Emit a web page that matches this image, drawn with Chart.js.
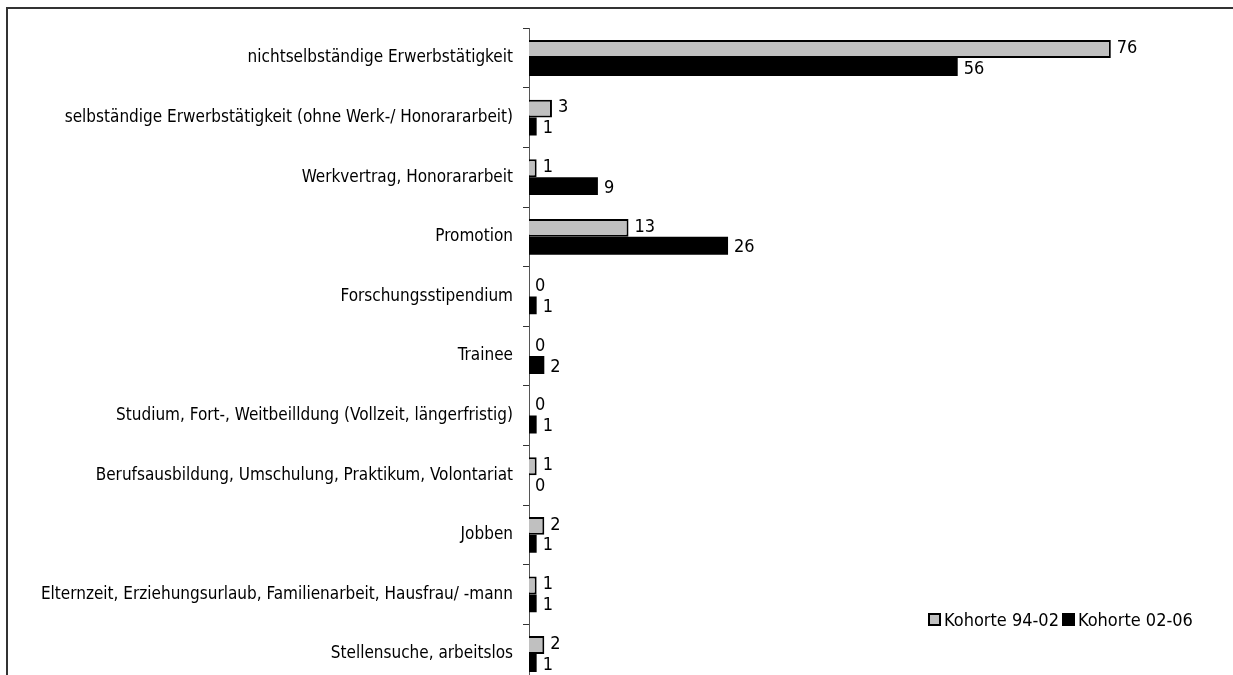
<!DOCTYPE html>
<html>
<head>
<meta charset="utf-8">
<script src="https://cdn.jsdelivr.net/npm/chart.js@4"></script>
<style>
  html, body { margin: 0; padding: 0; background: #fff; overflow: hidden; }
  #frame {
    position: absolute; left: 6px; top: 7px; width: 1240px; height: 720px;
    border-top: 2px solid #333; border-left: 2px solid #333;
  }
  #box { position: absolute; left: 0; top: -1px; width: 1225px; height: 696px; }
  #legend {
    position: absolute; left: 928px; top: 609px;
    font-family: "DejaVu Sans Condensed", "Liberation Sans", sans-serif; font-size: 18px; color: #000;
    display: flex; align-items: center; white-space: nowrap;
  }
  #legend span.sw { display: inline-block; width: 9px; height: 9px; margin-right: 3px; }
  #legend span.tx { margin-right: 3px; }
</style>
</head>
<body>
<div id="frame">
  <div id="box"><canvas id="salesChart"></canvas></div>
</div>
<div id="legend"></div>
<script>
var categories = [
    'nichtselbständige Erwerbstätigkeit',
    'selbständige Erwerbstätigkeit (ohne Werk-/ Honorararbeit)',
    'Werkvertrag, Honorararbeit',
    'Promotion',
    'Forschungsstipendium',
    'Trainee',
    'Studium, Fort-, Weitbeilldung (Vollzeit, längerfristig)',
    'Berufsausbildung, Umschulung, Praktikum, Volontariat',
    'Jobben',
    'Elternzeit, Erziehungsurlaub, Familienarbeit, Hausfrau/ -mann',
    'Stellensuche, arbeitslos'
];
var seriesNames = ['Kohorte 94-02', 'Kohorte 02-06'];
var kohorte9402 = [76, 3, 1, 13, 0, 0, 0, 1, 2, 1, 2];
var kohorte0206 = [56, 1, 9, 26, 1, 2, 1, 0, 1, 1, 1];

var fontName = '"DejaVu Sans Condensed", "Liberation Sans", sans-serif';

// values printed at the end of each bar
var valueLabels = {
    id: 'valueLabels',
    afterDatasetsDraw: function (chart) {
        var ctx = chart.ctx;
        ctx.save();
        ctx.font = '18px ' + fontName;
        ctx.fillStyle = '#000';
        ctx.textBaseline = 'middle';
        ctx.textAlign = 'left';
        chart.data.datasets.forEach(function (ds, di) {
            var meta = chart.getDatasetMeta(di);
            meta.data.forEach(function (bar, i) {
                var dy = di === 0 ? -1 : 2;
                ctx.fillText(String(ds.data[i]), bar.x + 6, bar.y + dy);
            });
        });
        ctx.restore();
    }
};

function createChart() {
    var parrentNode = document.getElementById('salesChart');
    var box = document.getElementById('box');
    parrentNode.width = box.clientWidth;
    parrentNode.height = box.clientHeight;

    new Chart(parrentNode, {
        type: 'bar',
        data: {
            labels: categories,
            datasets: [{
                label: seriesNames[0],
                data: kohorte9402,
                backgroundColor: '#c0c0c0',
                borderColor: '#000',
                borderWidth: 2,
                borderSkipped: 'left'
            }, {
                label: seriesNames[1],
                data: kohorte0206,
                backgroundColor: '#000',
                borderWidth: 0
            }]
        },
        options: {
            indexAxis: 'y',
            responsive: false,
            animation: false,
            categoryPercentage: 0.6,
            barPercentage: 1.0,
            layout: { padding: { top: 15, right: 15, bottom: 13, left: 0 } },
            plugins: {
                legend: { display: false },
                tooltip: { enabled: false }
            },
            scales: {
                x: {
                    display: false,
                    min: 0,
                    max: 90
                },
                y: {
                    afterFit: function (scale) { scale.width = 521; },
                    border: { display: true, color: '#555', width: 1 },
                    grid: {
                        offset: true,
                        drawOnChartArea: false,
                        drawTicks: true,
                        tickLength: 6,
                        color: '#333'
                    },
                    ticks: {
                        color: '#000',
                        padding: 10,
                        font: { family: fontName, size: 17 }
                    }
                }
            }
        },
        plugins: [valueLabels]
    });

    var legend = document.getElementById('legend');
    var swatches = [
        'background:#c0c0c0;border:2px solid #000;',
        'background:#000;border:2px solid #000;'
    ];
    for (var i in seriesNames) {
        legend.innerHTML += '<span class="sw" style="' + swatches[i] + '"></span><span class="tx">' + seriesNames[i] + '</span>';
    }
}

createChart();
</script>
</body>
</html>
